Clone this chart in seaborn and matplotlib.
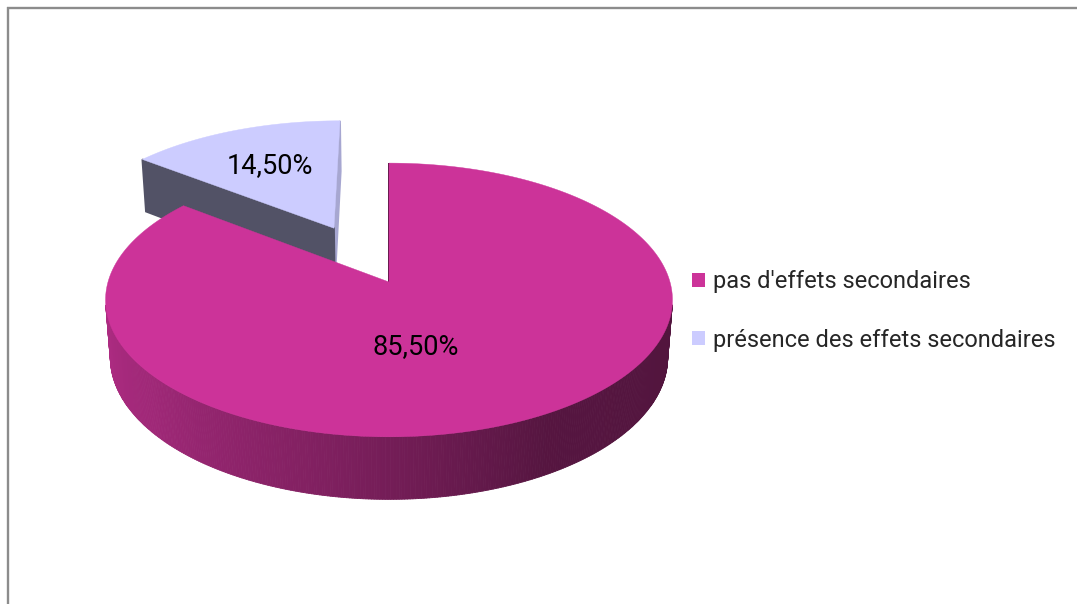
import numpy as np
import matplotlib
matplotlib.use("Agg")
import matplotlib.pyplot as plt
from matplotlib.patches import Patch, Polygon
from matplotlib.collections import PolyCollection
from matplotlib.lines import Line2D
import seaborn as sns

# Data
categories = ["pas d'effets secondaires", "présence des effets secondaires"]
shares = [85.5, 14.5]
explode = [0.0, 0.47]
slice_colors = ["#CC3399", "#CCCCFF"]

sns.set_theme(style="white")
plt.rcParams["font.family"] = ["Roboto", "DejaVu Sans"]
palette = sns.color_palette(slice_colors)

W, H, DPI = 1077, 604, 100
fig = plt.figure(figsize=(W / DPI, H / DPI), dpi=DPI)
fig.patch.set_facecolor("white")
ax = fig.add_axes([0, 0, 1, 1])
ax.set_xlim(0, W)
ax.set_ylim(H, 0)
ax.axis("off")

# Simple perspective camera looking down on a unit-radius disc
ELEV = np.radians(28.6)
C, S = np.cos(ELEV), np.sin(ELEV)
DIST = 6.69
FOCAL = 281 * DIST
THICK = 0.235
CX, CY = 389, 282
CAM = np.array([0.0, -DIST * C, DIST * S])


def project(x, y, z):
    x, y, z = np.asarray(x, float), np.asarray(y, float), np.asarray(z, float)
    depth = DIST + y * C - z * S
    return CX + FOCAL * x / depth, CY - FOCAL * (y * S + z * C) / depth


def shade(color, f):
    return tuple(np.clip(np.array(color) * f, 0, 1))


def wall_factor(theta_deg):
    t = theta_deg % 360
    return np.interp(t, [180, 220, 260, 300, 360], [0.88, 0.78, 0.62, 0.42, 0.40])


# slice angles: start at 12 o'clock, clockwise
total = float(sum(shares))
cum = np.concatenate([[0.0], np.cumsum(shares)]) / total * 360.0
slices = []
for i, v in enumerate(shares):
    t_hi = 90.0 - cum[i]
    t_lo = 90.0 - cum[i + 1]
    mid = np.radians((t_hi + t_lo) / 2)
    off = np.array([explode[i] * np.cos(mid), explode[i] * np.sin(mid)])
    slices.append(dict(i=i, lo=t_lo, hi=t_hi, mid=mid, off=off))

# draw far slices first
order = sorted(slices, key=lambda d: -d["off"][1])


def visible(point, normal):
    return np.dot(CAM - point, normal) >= -1e-9


label_spots = {0: (-15.0, 0.46), 1: (0.0, 0.62)}

for sl in order:
    i, lo, hi, off = sl["i"], sl["lo"], sl["hi"], sl["off"]
    col = palette[i]

    # outer curved wall
    n = max(4, int(abs(hi - lo) * 2))
    th = np.linspace(lo, hi, n + 1)
    polys, fcs = [], []
    for a0, a1 in zip(th[:-1], th[1:]):
        am = np.radians((a0 + a1) / 2)
        normal = np.array([np.cos(am), np.sin(am), 0.0])
        p = np.array([off[0] + np.cos(am), off[1] + np.sin(am), 0.0])
        if not visible(p, normal):
            continue
        r0, r1 = np.radians(a0), np.radians(a1)
        xs = off[0] + np.array([np.cos(r0), np.cos(r1), np.cos(r1), np.cos(r0)])
        ys = off[1] + np.array([np.sin(r0), np.sin(r1), np.sin(r1), np.sin(r0)])
        zs = np.array([0, 0, -THICK, -THICK])
        px, py = project(xs, ys, zs)
        polys.append(np.column_stack([px, py]))
        fcs.append(shade(col, wall_factor((a0 + a1) / 2)))
    if polys:
        ax.add_collection(PolyCollection(polys, facecolors=fcs, edgecolors=fcs,
                                         linewidths=0.6, zorder=2))

    # radial cut faces
    for edge, ndir in ((lo, lo - 90.0), (hi, hi + 90.0)):
        er, nr = np.radians(edge), np.radians(ndir)
        normal = np.array([np.cos(nr), np.sin(nr), 0.0])
        p = np.array([off[0] + 0.5 * np.cos(er), off[1] + 0.5 * np.sin(er), 0.0])
        if not visible(p, normal):
            continue
        xs = off[0] + np.array([0, np.cos(er), np.cos(er), 0])
        ys = off[1] + np.array([0, np.sin(er), np.sin(er), 0])
        zs = np.array([0, 0, -THICK, -THICK])
        px, py = project(xs, ys, zs)
        fc = shade(col, float(np.interp(normal[0], [-1, -0.3, 1], [0.40, 0.40, 0.82])))
        ax.add_patch(Polygon(np.column_stack([px, py]), closed=True, facecolor=fc,
                             edgecolor=fc, linewidth=1.3, zorder=2))

    # top face
    th = np.radians(np.linspace(lo, hi, 300))
    xs = np.concatenate([[off[0]], off[0] + np.cos(th)])
    ys = np.concatenate([[off[1]], off[1] + np.sin(th)])
    px, py = project(xs, ys, np.zeros_like(xs))
    ax.add_patch(Polygon(np.column_stack([px, py]), closed=True, facecolor=col,
                         edgecolor=col, linewidth=0.3, zorder=2))

    # value label
    dang, rad = label_spots[i]
    la = sl["mid"] + np.radians(dang)
    lx, ly = project(off[0] + rad * np.cos(la), off[1] + rad * np.sin(la), 0.0)
    txt = f"{shares[i]:.2f}".replace(".", ",") + "%"
    ax.text(float(lx), float(ly), txt, ha="center", va="center", fontsize=19.5,
            color="black", zorder=5)

# legend
handles = [Patch(facecolor=palette[k], edgecolor="none") for k in range(len(categories))]
ax.legend(handles, categories, loc="center left", bbox_to_anchor=(692 / W, 1 - 311 / H),
          frameon=False, fontsize=17, handlelength=0.55, handleheight=0.55,
          handletextpad=0.35, labelspacing=1.5, borderpad=0, borderaxespad=0)

# chart area border (top and left edges)
border = "#8c8c8c"
fig.add_artist(Line2D([7 / W, 1], [1 - 7.5 / H, 1 - 7.5 / H], transform=fig.transFigure,
                      color=border, lw=1.7, solid_capstyle="butt"))
fig.add_artist(Line2D([8 / W, 8 / W], [0, 1 - 6.5 / H], transform=fig.transFigure,
                      color=border, lw=1.7, solid_capstyle="butt"))

fig.savefig("out.png", dpi=DPI, facecolor="white")
